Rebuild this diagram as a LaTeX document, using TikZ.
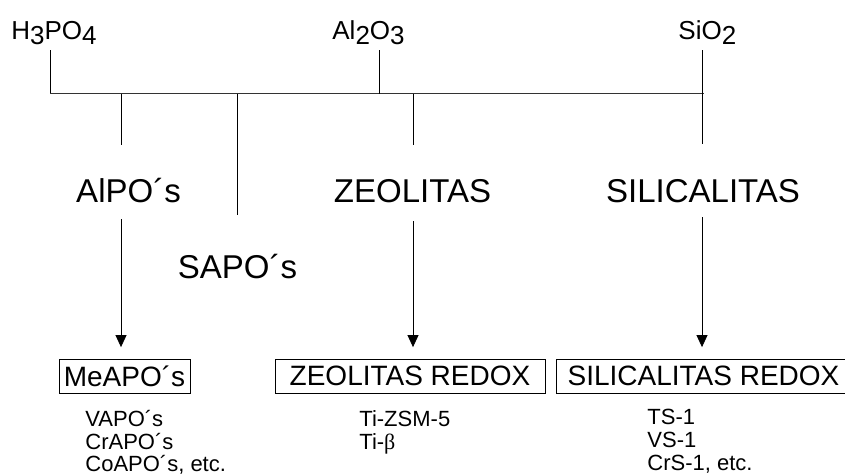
\documentclass[tikz,border=0pt]{standalone}
\usepackage{fontspec}
\setmainfont{Liberation Sans}
\newfontfamily\greekfont{Liberation Serif}
\usetikzlibrary{arrows.meta}

\newcommand{\lowr}[1]{\raisebox{-5.5pt}{#1}}

\tikzset{
  chemnode/.style={inner sep=0pt, anchor=base west, font=\fontsize{26}{28}\selectfont},
  groupname/.style={inner sep=0pt, anchor=base, font=\fontsize{33}{36}\selectfont},
  redoxbox/.style={draw, line width=0.8pt, inner sep=0pt, minimum height=34pt, font=\fontsize{28}{30}\selectfont},
  itemtext/.style={inner sep=0pt, anchor=base west, font=\fontsize{22}{24}\selectfont},
  arr/.style={-{Triangle[width=11pt,length=12pt]}, shorten >=11.5pt},
}

\begin{document}
\begin{tikzpicture}[x=1pt, y=-1pt, line width=0.8pt]
  \useasboundingbox (0,0) rectangle (845,474);

  % Sources
  \node[chemnode] (h3po4) at (11,39) {H\lowr{3}PO\lowr{4}};
  \node[chemnode] (al2o3) at (332,39) {Al\lowr{2}O\lowr{3}};
  \node[chemnode] (sio2) at (678,39) {SiO\lowr{2}};

  % Main line
  \coordinate (hp) at (50,50);
  \coordinate (ha) at (379,50);
  \coordinate (hs) at (702,50);
  \coordinate (jp) at (50,93.5);
  \coordinate (lend) at (704,93.5);
  \draw (hp) -- (jp);
  \draw[line width=1.1pt, black!80] (jp) -- (lend);
  \draw (ha) -- (ha |- jp);
  \draw (hs) -- (702,144) coordinate (js);

  % Branches
  \coordinate (d1) at (121,145);
  \coordinate (d2) at (237,215);
  \coordinate (d3) at (413,145);
  \draw (d1 |- jp) -- (d1);
  \draw (d2 |- jp) -- (d2);
  \draw (d3 |- jp) -- (d3);

  % Families
  \node[groupname] (alpo) at (128.5,202) {AlPO´s};
  \node[groupname] (sapo) at (237.5,278) {SAPO´s};
  \node[groupname] (zeo) at (412.5,202) {ZEOLITAS};
  \node[groupname] (sili) at (703,202) {SILICALITAS};

  % Redox materials
  \node[redoxbox, minimum width=131pt] (meapo) at (124.5,376) {MeAPO´s};
  \node[redoxbox, minimum width=270pt] (zeored) at (410,376) {ZEOLITAS REDOX};
  \node[redoxbox, minimum width=295pt] (silred) at (703.5,376) {SILICALITAS REDOX};

  % Arrows
  \coordinate (a1) at (121,219);
  \coordinate (a2) at (413,221);
  \coordinate (a3) at (702,217);
  \draw[arr] (a1) -- (a1 |- meapo.north);
  \draw[arr] (a2) -- (a2 |- zeored.north);
  \draw[arr] (a3) -- (a3 |- silred.north);

  % Examples
  \node[itemtext] (vapo) at (85,426) {VAPO´s};
  \node[itemtext] (crapo) at (85,449) {CrAPO´s};
  \node[itemtext] (coapo) at (85,471) {CoAPO´s, etc.};
  \node[itemtext] (tizsm) at (359,426) {Ti-ZSM-5};
  \node[itemtext] (tibeta) at (359,449) {Ti-{\greekfont β}};
  \node[itemtext] (ts) at (647,424) {TS-1};
  \node[itemtext] (vs) at (647,447) {VS-1};
  \node[itemtext] (crs) at (647,470) {CrS-1, etc.};

\end{tikzpicture}
\end{document}
